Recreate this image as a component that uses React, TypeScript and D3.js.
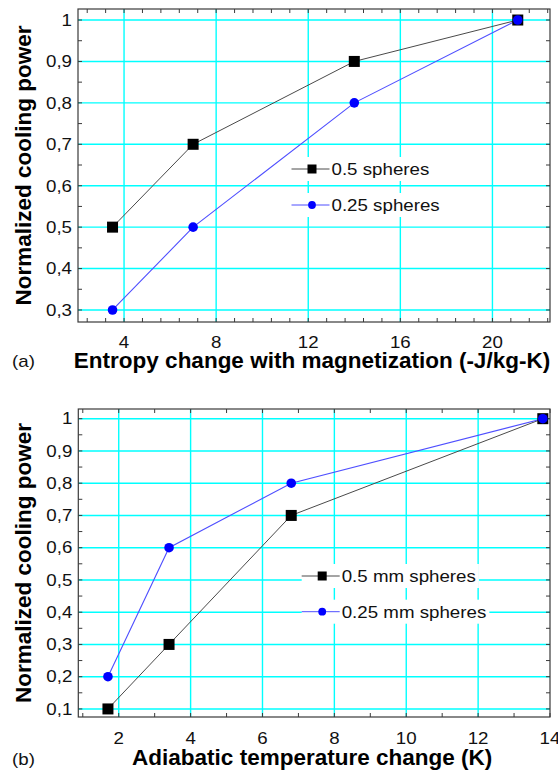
import React from "react";
import * as d3 from "d3";

// ---------- data ----------
const aEntropy = [3.5, 7.0, 14.0, 21.1];
const aPower05 = [0.5, 0.7, 0.9, 1.0];
const aPower025 = [0.3, 0.5, 0.8, 1.0];

const bDeltaT = [1.7, 3.4, 6.8, 13.8];
const bPower05 = [0.1, 0.3, 0.7, 1.0];
const bPower025 = [0.2, 0.6, 0.8, 1.0];

const aXTicks = [4, 8, 12, 16, 20];
const aYTicks = [0.3, 0.4, 0.5, 0.6, 0.7, 0.8, 0.9, 1.0];
const aYLabels = ["0,3", "0,4", "0,5", "0,6", "0,7", "0,8", "0,9", "1"];
const bXTicks = [2, 4, 6, 8, 10, 12, 14];
const bYTicks = [0.1, 0.2, 0.3, 0.4, 0.5, 0.6, 0.7, 0.8, 0.9, 1.0];
const bYLabels = ["0,1", "0,2", "0,3", "0,4", "0,5", "0,6", "0,7", "0,8", "0,9", "1"];

const aLegend = ["0.5 spheres", "0.25 spheres"];
const bLegend = ["0.5 mm spheres", "0.25 mm spheres"];

const FONT = "'Liberation Sans', Arial, sans-serif";
const SX = 1.17;
const GRID = "#00ffff";
const FRAME = "#3a3a3a";
const BLACK_LINE = "#4a4a4a";
const BLUE_LINE = "#4f4fff";
const BLUE = "#0000ff";

function textWidth(s: string, size: number) {
  if (typeof document === "undefined") return s.length * size * 0.55;
  const c = document.createElement("canvas").getContext("2d");
  if (!c) return s.length * size * 0.55;
  c.font = `${size}px 'Liberation Sans', Arial, sans-serif`;
  return c.measureText(s).width;
}

type PanelProps = {
  xDomain: [number, number];
  yDomain: [number, number];
  left: number;
  right: number;
  top: number;
  bottom: number;
  xTicks: number[];
  xMinor: number[];
  yTicks: number[];
  yLabels: string[];
  yMinor: number[];
  xs: number[];
  ySq: number[];
  yCi: number[];
  legend: string[];
  legX: number;
  legY: number[];
  xTitle: string;
  titleY: number;
  tickOff: number;
  tag: string;
  tagY: number;
};

function Panel(p: PanelProps) {
  const x = d3.scaleLinear().domain(p.xDomain).range([p.left, p.right]);
  const y = d3.scaleLinear().domain(p.yDomain).range([p.bottom, p.top]);
  const line = d3
    .line<number>()
    .x((_, i) => x(p.xs[i]))
    .y((d) => y(d));
  const tl = 4;
  const cy = (p.top + p.bottom) / 2;
  const cx = (p.left + p.right) / 2 - 2;
  return (
    <g>
      {/* grid */}
      {p.xTicks
        .filter((t) => x(t) < p.right - 1)
        .map((t) => (
          <line key={"gx" + t} x1={x(t)} x2={x(t)} y1={p.top} y2={p.bottom} stroke={GRID} strokeWidth={1.4} />
        ))}
      {p.yTicks.map((t) => (
        <line key={"gy" + t} x1={p.left} x2={p.right} y1={y(t)} y2={y(t)} stroke={GRID} strokeWidth={1.4} />
      ))}
      {/* ticks */}
      {[...p.xTicks, ...p.xMinor].map((t, i) => (
        <g key={"tx" + i}>
          <line x1={x(t)} x2={x(t)} y1={p.bottom} y2={p.bottom - tl} stroke={FRAME} strokeWidth={1} />
          <line x1={x(t)} x2={x(t)} y1={p.top} y2={p.top + tl} stroke={FRAME} strokeWidth={1} />
        </g>
      ))}
      {[...p.yTicks, ...p.yMinor].map((t, i) => (
        <g key={"ty" + i}>
          <line x1={p.left} x2={p.left + tl} y1={y(t)} y2={y(t)} stroke={FRAME} strokeWidth={1} />
          <line x1={p.right} x2={p.right - tl} y1={y(t)} y2={y(t)} stroke={FRAME} strokeWidth={1} />
        </g>
      ))}
      {/* frame */}
      <rect x={p.left} y={p.top} width={p.right - p.left} height={p.bottom - p.top} fill="none" stroke={FRAME} strokeWidth={1.2} />
      {/* tick labels */}
      {p.xTicks.map((t) => (
        <text key={"lx" + t} transform={`translate(${x(t)},${p.bottom + p.tickOff}) scale(${SX},1)`} textAnchor="middle" fontFamily={FONT} fontSize={16} fill="#111">
          {String(t)}
        </text>
      ))}
      {p.yTicks.map((t, i) => (
        <text key={"ly" + t} transform={`translate(${p.left - 6},${y(t) + 5.8}) scale(${SX},1)`} textAnchor="end" fontFamily={FONT} fontSize={16} fill="#111">
          {p.yLabels[i]}
        </text>
      ))}
      {/* series lines */}
      <path d={line(p.ySq) || ""} fill="none" stroke={BLACK_LINE} strokeWidth={1} />
      <path d={line(p.yCi) || ""} fill="none" stroke={BLUE_LINE} strokeWidth={1.1} />
      {p.ySq.map((v, i) => (
        <rect key={"sq" + i} x={x(p.xs[i]) - 5.5} y={y(v) - 5.5} width={11} height={11} fill="#000" />
      ))}
      {p.yCi.map((v, i) => (
        <circle key={"ci" + i} cx={x(p.xs[i])} cy={y(v)} r={4.8} fill={BLUE} />
      ))}
      {/* legend */}
      {p.legend.map((s, i) => {
        const ly = p.legY[i];
        const tw = textWidth(s, 16) * SX;
        return (
          <g key={"lg" + i}>
            <rect x={p.legX} y={ly - 12} width={40 + tw + 3} height={24} fill="#fff" />
            <line x1={p.legX} x2={p.legX + 38} y1={ly} y2={ly} stroke={i === 0 ? BLACK_LINE : BLUE_LINE} strokeWidth={1} />
            {i === 0 ? (
              <rect x={p.legX + 20.5 - 4.5} y={ly - 4.5} width={9} height={9} fill="#000" />
            ) : (
              <circle cx={p.legX + 20.5} cy={ly} r={3.9} fill={BLUE} />
            )}
            <text transform={`translate(${p.legX + 40},${ly + 5.8}) scale(${SX},1)`} fontFamily={FONT} fontSize={16} fill="#111">
              {s}
            </text>
          </g>
        );
      })}
      {/* titles */}
      <text x={cx} y={p.titleY} textAnchor="middle" fontFamily={FONT} fontWeight="bold" fontSize={22.5} fill="#000">
        {p.xTitle}
      </text>
      <text transform={`translate(31,${cy}) rotate(-90)`} textAnchor="middle" fontFamily={FONT} fontWeight="bold" fontSize={22.5} fill="#000">
        Normalized cooling power
      </text>
      <text transform={`translate(12,${p.tagY}) scale(${SX},1)`} fontFamily={FONT} fontSize={16} fill="#111">
        {p.tag}
      </text>
    </g>
  );
}

export default function App() {
  const aXMinor = d3.range(2.4, 22.45, 0.8).filter((v) => Math.abs(v / 4 - Math.round(v / 4)) > 0.01);
  const aYMinor = d3.range(0.35, 1.01, 0.1);
  const bXMinor = d3.range(1, 14, 2);
  const bYMinor = d3.range(0.15, 1.01, 0.1);
  return (
    <svg width={558} height={775} style={{ position: "absolute", left: 0, top: 0, background: "#fff" }}>
      <rect x={0} y={0} width={558} height={775} fill="#fff" />
      <Panel
        xDomain={[2, 22.5]}
        yDomain={[0.271, 1.0266]}
        left={78}
        right={550}
        top={9}
        bottom={322}
        xTicks={aXTicks}
        xMinor={aXMinor}
        yTicks={aYTicks}
        yLabels={aYLabels}
        yMinor={aYMinor}
        xs={aEntropy}
        ySq={aPower05}
        yCi={aPower025}
        legend={aLegend}
        legX={291.5}
        legY={[169, 205]}
        xTitle="Entropy change with magnetization (-J/kg-K)"
        titleY={368}
        tickOff={25.5}
        tag="(a)"
        tagY={367}
      />
      <Panel
        xDomain={[0.875, 14]}
        yDomain={[0.075, 1.03]}
        left={78.3}
        right={550}
        top={409}
        bottom={717}
        xTicks={bXTicks}
        xMinor={bXMinor}
        yTicks={bYTicks}
        yLabels={bYLabels}
        yMinor={bYMinor}
        xs={bDeltaT}
        ySq={bPower05}
        yCi={bPower025}
        legend={bLegend}
        legX={301.7}
        legY={[576, 611.7]}
        xTitle="Adiabatic temperature change (K)"
        titleY={765}
        tickOff={26.5}
        tag="(b)"
        tagY={765}
      />
    </svg>
  );
}
